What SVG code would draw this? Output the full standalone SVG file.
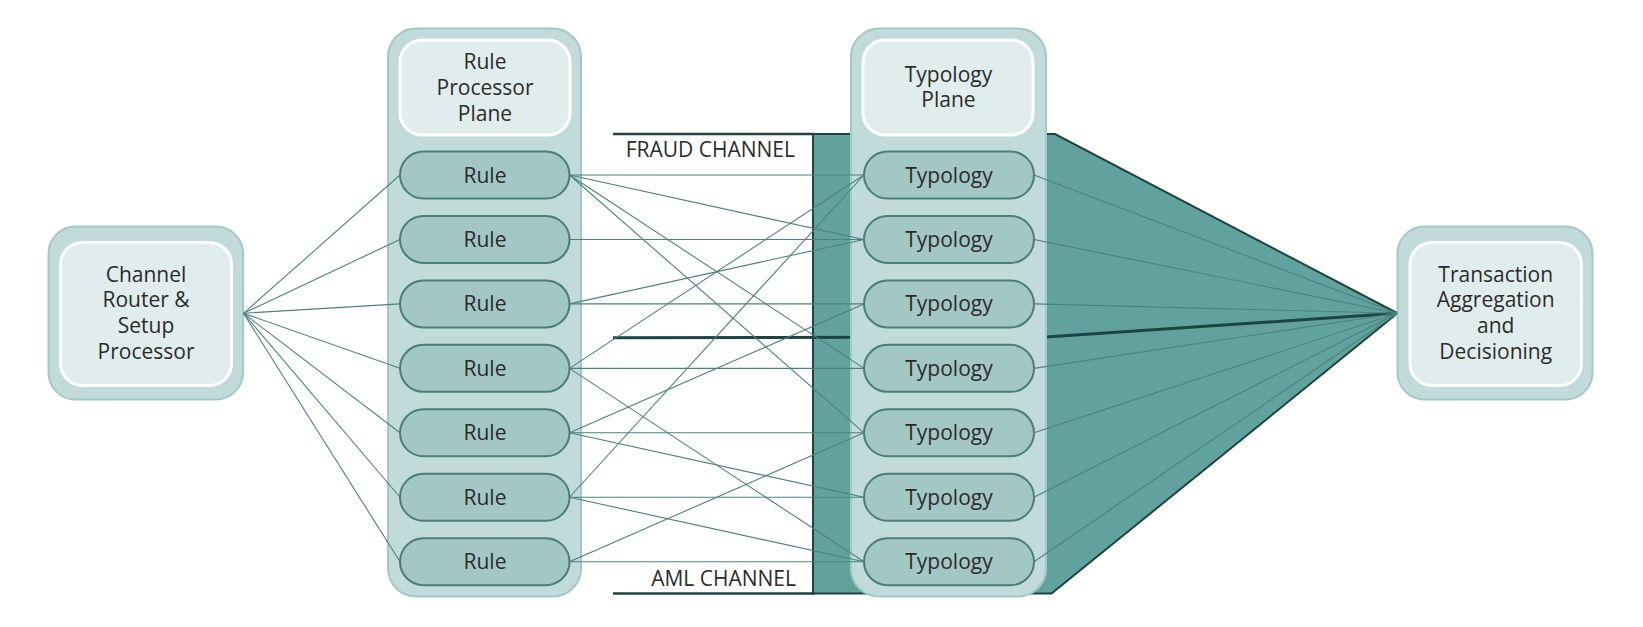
<svg xmlns="http://www.w3.org/2000/svg" width="1643" height="627" viewBox="0 0 1643 627">
<style>
text{font-family:"Open Sans","Noto Sans","DejaVu Sans",sans-serif;font-size:21px;fill:#2b2b2b;text-anchor:middle}
.lbl{text-anchor:end}
.outer{fill:#c0dbda;stroke:#a3c9c6;stroke-width:2}
.inner{fill:#e1eded;stroke:#ffffff;stroke-width:3}
.pill{fill:#a2c7c4;stroke:#4b7d79;stroke-width:2}
.conn line{stroke:#4b827e;stroke-width:1.1}
.chan{stroke:#1e4442;fill:none}
</style>
<g id="channels">
<polygon points="813,134 1055,134 1397.5,313.3 1051.5,593.5 813,593.5" fill="#62a29e" stroke="#1e4442" stroke-width="2" stroke-linejoin="miter"/>
<line class="chan" x1="613" y1="134" x2="814" y2="134" stroke-width="2.5"/>
<line class="chan" x1="613" y1="593.5" x2="814" y2="593.5" stroke-width="2.5"/>
<polyline class="chan" points="613,337.7 1046,337 1397.5,313.3" stroke-width="3"/>
<text class="lbl" x="795" y="157">FRAUD CHANNEL</text>
<text class="lbl" x="796" y="585.7">AML CHANNEL</text>
</g>
<g id="router">
<rect class="outer" x="48.5" y="226.5" width="194.5" height="173" rx="27"/>
<rect class="inner" x="60.5" y="242.5" width="171" height="143" rx="22"/>
<text x="146" y="281.7">Channel</text>
<text x="146" y="307.3">Router &amp;</text>
<text x="146" y="333">Setup</text>
<text x="146" y="359.3">Processor</text>
</g>
<g id="rule-plane">
<rect class="outer" x="388" y="28.5" width="193" height="568" rx="28"/>
<rect class="inner" x="400" y="40" width="170" height="95" rx="22"/>
<text x="485" y="69.3">Rule</text>
<text x="485" y="95">Processor</text>
<text x="485" y="120.7">Plane</text>
</g>
<g id="typology-plane">
<rect class="outer" x="851" y="28.5" width="195" height="568" rx="28"/>
<rect class="inner" x="863" y="40" width="170" height="95" rx="22"/>
<text x="948.5" y="81.7">Typology</text>
<text x="948.5" y="107.3">Plane</text>
</g>
<g id="decision">
<rect class="outer" x="1397.5" y="226.5" width="195" height="173" rx="27"/>
<rect class="inner" x="1410" y="242.5" width="171.5" height="143" rx="22"/>
<text x="1495.7" y="281.7">Transaction</text>
<text x="1495.7" y="307.3">Aggregation</text>
<text x="1495.7" y="333">and</text>
<text x="1495.7" y="359.3">Decisioning</text>
</g>
<g id="connectors" class="conn">
<line x1="243.5" y1="313.3" x2="400" y2="175"/>
<line x1="243.5" y1="313.3" x2="400" y2="239.45"/>
<line x1="243.5" y1="313.3" x2="400" y2="303.9"/>
<line x1="243.5" y1="313.3" x2="400" y2="368.35"/>
<line x1="243.5" y1="313.3" x2="400" y2="432.8"/>
<line x1="243.5" y1="313.3" x2="400" y2="497.25"/>
<line x1="243.5" y1="313.3" x2="400" y2="561.7"/>
<line x1="569.5" y1="175" x2="864" y2="175"/>
<line x1="569.5" y1="175" x2="864" y2="239.45"/>
<line x1="569.5" y1="175" x2="864" y2="368.35"/>
<line x1="569.5" y1="175" x2="864" y2="432.8"/>
<line x1="569.5" y1="239.45" x2="864" y2="239.45"/>
<line x1="569.5" y1="303.9" x2="864" y2="239.45"/>
<line x1="569.5" y1="303.9" x2="864" y2="303.9"/>
<line x1="569.5" y1="368.35" x2="864" y2="175"/>
<line x1="569.5" y1="368.35" x2="864" y2="368.35"/>
<line x1="569.5" y1="368.35" x2="864" y2="561.7"/>
<line x1="569.5" y1="432.8" x2="864" y2="303.9"/>
<line x1="569.5" y1="432.8" x2="864" y2="432.8"/>
<line x1="569.5" y1="432.8" x2="864" y2="497.25"/>
<line x1="569.5" y1="497.25" x2="864" y2="175"/>
<line x1="569.5" y1="497.25" x2="864" y2="497.25"/>
<line x1="569.5" y1="497.25" x2="864" y2="561.7"/>
<line x1="569.5" y1="561.7" x2="864" y2="432.8"/>
<line x1="569.5" y1="561.7" x2="864" y2="561.7"/>
<line x1="1034" y1="175" x2="1397.5" y2="313.3"/>
<line x1="1034" y1="239.45" x2="1397.5" y2="313.3"/>
<line x1="1034" y1="303.9" x2="1397.5" y2="313.3"/>
<line x1="1034" y1="368.35" x2="1397.5" y2="313.3"/>
<line x1="1034" y1="432.8" x2="1397.5" y2="313.3"/>
<line x1="1034" y1="497.25" x2="1397.5" y2="313.3"/>
<line x1="1034" y1="561.7" x2="1397.5" y2="313.3"/>
</g>
<g id="rule-1"><rect class="pill" x="400" y="151.5" width="169.5" height="47" rx="23.5"/><text x="485" y="182.5">Rule</text></g>
<g id="rule-2"><rect class="pill" x="400" y="215.95" width="169.5" height="47" rx="23.5"/><text x="485" y="246.95">Rule</text></g>
<g id="rule-3"><rect class="pill" x="400" y="280.4" width="169.5" height="47" rx="23.5"/><text x="485" y="311.4">Rule</text></g>
<g id="rule-4"><rect class="pill" x="400" y="344.85" width="169.5" height="47" rx="23.5"/><text x="485" y="375.85">Rule</text></g>
<g id="rule-5"><rect class="pill" x="400" y="409.3" width="169.5" height="47" rx="23.5"/><text x="485" y="440.3">Rule</text></g>
<g id="rule-6"><rect class="pill" x="400" y="473.75" width="169.5" height="47" rx="23.5"/><text x="485" y="504.75">Rule</text></g>
<g id="rule-7"><rect class="pill" x="400" y="538.2" width="169.5" height="47" rx="23.5"/><text x="485" y="569.2">Rule</text></g>
<g id="typology-1"><rect class="pill" x="864" y="151.5" width="170" height="47" rx="23.5"/><text x="949" y="182.5">Typology</text></g>
<g id="typology-2"><rect class="pill" x="864" y="215.95" width="170" height="47" rx="23.5"/><text x="949" y="246.95">Typology</text></g>
<g id="typology-3"><rect class="pill" x="864" y="280.4" width="170" height="47" rx="23.5"/><text x="949" y="311.4">Typology</text></g>
<g id="typology-4"><rect class="pill" x="864" y="344.85" width="170" height="47" rx="23.5"/><text x="949" y="375.85">Typology</text></g>
<g id="typology-5"><rect class="pill" x="864" y="409.3" width="170" height="47" rx="23.5"/><text x="949" y="440.3">Typology</text></g>
<g id="typology-6"><rect class="pill" x="864" y="473.75" width="170" height="47" rx="23.5"/><text x="949" y="504.75">Typology</text></g>
<g id="typology-7"><rect class="pill" x="864" y="538.2" width="170" height="47" rx="23.5"/><text x="949" y="569.2">Typology</text></g>
</svg>
